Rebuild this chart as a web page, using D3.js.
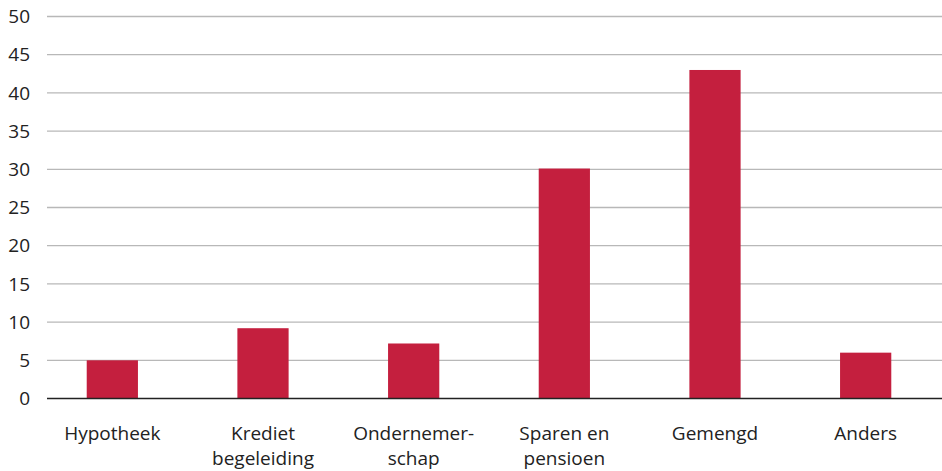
<!DOCTYPE html>
<html>
<head>
<meta charset="utf-8">
<script src="https://cdn.jsdelivr.net/npm/d3@7"></script>
<style>
  body { margin: 0; background: #fff; }
  text { font-family: "Open Sans", "Noto Sans", sans-serif; fill: #222; }
</style>
</head>
<body>
<svg width="942" height="471"></svg>
<script>
// data
const categories = ["Hypotheek", "Krediet\nbegeleiding", "Ondernemer-\nschap", "Sparen en\npensioen", "Gemengd", "Anders"];
const values = [5, 9.2, 7.2, 30.1, 43, 6];
const yTicks = [0, 5, 10, 15, 20, 25, 30, 35, 40, 45, 50];

const svg = d3.select("svg");

const xScale = d3.scaleBand()
    .domain(categories)
    .range([37, 941])
    .padding(0);

const yScale = d3.scaleLinear()
    .domain([0, 50])
    .range([398.5, 16.5]);

const barW = xScale.bandwidth() * 0.34;

// gridlines
svg.append("g")
    .selectAll("line")
    .data(yTicks.filter(d => d > 0))
    .enter()
    .append("line")
    .attr("x1", 47)
    .attr("x2", 942)
    .attr("y1", d => yScale(d))
    .attr("y2", d => yScale(d))
    .attr("stroke", "#b8b8b8")
    .attr("stroke-width", 1.3);

// y labels
svg.append("g")
    .selectAll("text")
    .data(yTicks)
    .enter()
    .append("text")
    .attr("x", 30)
    .attr("y", d => yScale(d))
    .attr("dy", "0.35em")
    .attr("text-anchor", "end")
    .style("font-size", "19px")
    .text(d => d);

// bars
svg.append("g")
    .selectAll("rect")
    .data(values)
    .enter()
    .append("rect")
    .attr("x", (d, i) => xScale(categories[i]) + xScale.bandwidth() / 2 - barW / 2)
    .attr("y", d => yScale(d))
    .attr("width", barW)
    .attr("height", d => yScale(0) - yScale(d))
    .attr("fill", "#c41f3e");

// baseline
svg.append("line")
    .attr("x1", 47)
    .attr("x2", 942)
    .attr("y1", yScale(0))
    .attr("y2", yScale(0))
    .attr("stroke", "#222")
    .attr("stroke-width", 1.5);

// x labels
svg.append("g")
    .selectAll("text")
    .data(categories)
    .enter()
    .append("text")
    .attr("x", d => xScale(d) + xScale.bandwidth() / 2)
    .attr("y", 440)
    .attr("text-anchor", "middle")
    .style("font-size", "19px")
    .each(function(d) {
        const lines = d.split("\n");
        d3.select(this).selectAll("tspan")
            .data(lines)
            .enter()
            .append("tspan")
            .attr("x", xScale(d) + xScale.bandwidth() / 2)
            .attr("dy", (l, i) => i === 0 ? 0 : 25)
            .text(l => l);
    });
</script>
</body>
</html>
